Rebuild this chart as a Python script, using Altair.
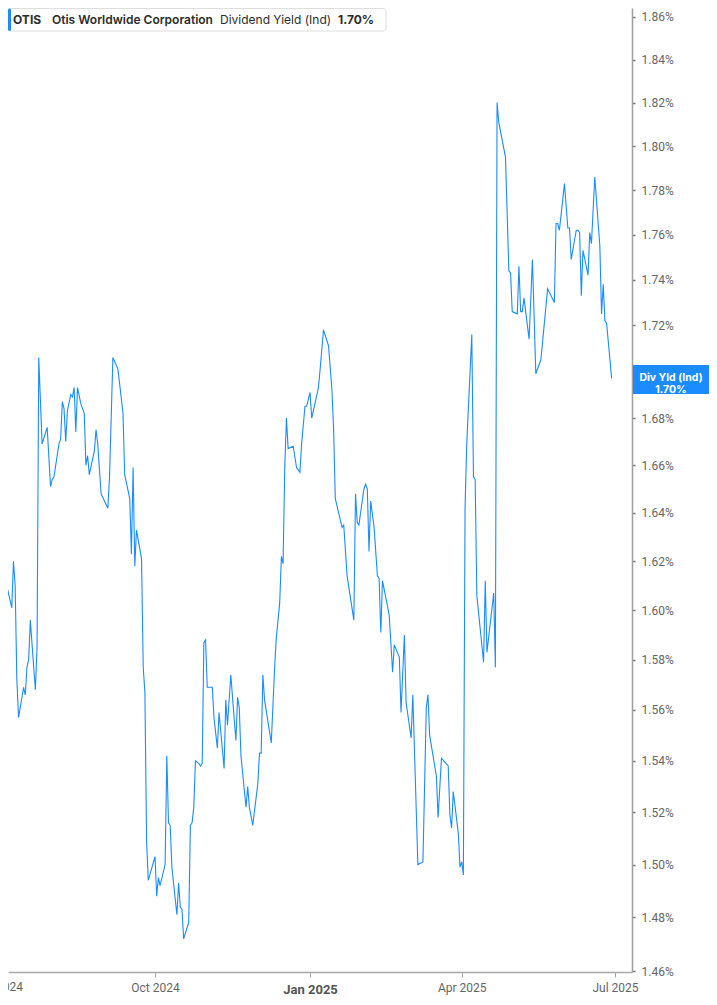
import altair as alt
import pandas as pd

# ---------------- data ----------------
dates = [
    "2024-07-01", "2024-07-02", "2024-07-03", "2024-07-08", "2024-07-09", "2024-07-10", "2024-07-11", "2024-07-12", "2024-07-15", "2024-07-16",
    "2024-07-17", "2024-07-18", "2024-07-19", "2024-07-21", "2024-07-22", "2024-07-23", "2024-07-24", "2024-07-26", "2024-07-29", "2024-07-31",
    "2024-08-01", "2024-08-02", "2024-08-05", "2024-08-06", "2024-08-07", "2024-08-08", "2024-08-09", "2024-08-10", "2024-08-12", "2024-08-13",
    "2024-08-14", "2024-08-15", "2024-08-16", "2024-08-18", "2024-08-20", "2024-08-21", "2024-08-22", "2024-08-23", "2024-08-26", "2024-08-27",
    "2024-08-28", "2024-08-30", "2024-09-03", "2024-09-04", "2024-09-06", "2024-09-09", "2024-09-12", "2024-09-13", "2024-09-16", "2024-09-17",
    "2024-09-18", "2024-09-19", "2024-09-20", "2024-09-23", "2024-09-24", "2024-09-25", "2024-09-26", "2024-09-27", "2024-10-01", "2024-10-02",
    "2024-10-03", "2024-10-04", "2024-10-07", "2024-10-08", "2024-10-09", "2024-10-10", "2024-10-11", "2024-10-14", "2024-10-15", "2024-10-16",
    "2024-10-17", "2024-10-18", "2024-10-21", "2024-10-22", "2024-10-23", "2024-10-24", "2024-10-25", "2024-10-27", "2024-10-28", "2024-10-29",
    "2024-10-30", "2024-10-31", "2024-11-01", "2024-11-04", "2024-11-05", "2024-11-07", "2024-11-08", "2024-11-11", "2024-11-12", "2024-11-13",
    "2024-11-15", "2024-11-16", "2024-11-18", "2024-11-19", "2024-11-20", "2024-11-21", "2024-11-24", "2024-11-25", "2024-11-26", "2024-11-28",
    "2024-12-01", "2024-12-02", "2024-12-03", "2024-12-04", "2024-12-05", "2024-12-09", "2024-12-11", "2024-12-12", "2024-12-13", "2024-12-14",
    "2024-12-15", "2024-12-16", "2024-12-17", "2024-12-18", "2024-12-19", "2024-12-22", "2024-12-24", "2024-12-26", "2024-12-27", "2024-12-29",
    "2024-12-30", "2025-01-01", "2025-01-02", "2025-01-06", "2025-01-07", "2025-01-09", "2025-01-12", "2025-01-14", "2025-01-15", "2025-01-16",
    "2025-01-20", "2025-01-21", "2025-01-23", "2025-01-27", "2025-01-28", "2025-01-29", "2025-01-30", "2025-02-02", "2025-02-03", "2025-02-04",
    "2025-02-05", "2025-02-06", "2025-02-08", "2025-02-10", "2025-02-11", "2025-02-12", "2025-02-13", "2025-02-17", "2025-02-19", "2025-02-20",
    "2025-02-23", "2025-02-24", "2025-02-26", "2025-02-27", "2025-03-02", "2025-03-03", "2025-03-06", "2025-03-09", "2025-03-11", "2025-03-12",
    "2025-03-13", "2025-03-17", "2025-03-18", "2025-03-20", "2025-03-24", "2025-03-25", "2025-03-26", "2025-03-27", "2025-03-30", "2025-03-31",
    "2025-04-01", "2025-04-02", "2025-04-03", "2025-04-04", "2025-04-07", "2025-04-08", "2025-04-09", "2025-04-10", "2025-04-14", "2025-04-15",
    "2025-04-16", "2025-04-20", "2025-04-21", "2025-04-22", "2025-04-23", "2025-04-27", "2025-04-29", "2025-04-30", "2025-05-01", "2025-05-04",
    "2025-05-05", "2025-05-06", "2025-05-07", "2025-05-08", "2025-05-11", "2025-05-13", "2025-05-15", "2025-05-18", "2025-05-22", "2025-05-26",
    "2025-05-27", "2025-05-28", "2025-05-29", "2025-06-01", "2025-06-03", "2025-06-04", "2025-06-05", "2025-06-08", "2025-06-09", "2025-06-10",
    "2025-06-11", "2025-06-12", "2025-06-15", "2025-06-16", "2025-06-17", "2025-06-19", "2025-06-22", "2025-06-23", "2025-06-24", "2025-06-25",
    "2025-06-26", "2025-06-29",
]

yields = [
    1.642, 1.626, 1.616, 1.601, 1.620, 1.610, 1.572, 1.557, 1.569, 1.566,
    1.577, 1.580, 1.596, 1.577, 1.568, 1.585, 1.706, 1.669, 1.676, 1.651,
    1.654, 1.655, 1.669, 1.671, 1.687, 1.684, 1.670, 1.683, 1.690, 1.689,
    1.693, 1.674, 1.693, 1.686, 1.682, 1.660, 1.664, 1.656, 1.666, 1.675,
    1.669, 1.648, 1.642, 1.655, 1.706, 1.701, 1.682, 1.656, 1.646, 1.623,
    1.659, 1.618, 1.633, 1.621, 1.577, 1.567, 1.509, 1.494, 1.503, 1.488,
    1.495, 1.492, 1.500, 1.542, 1.516, 1.515, 1.499, 1.481, 1.493, 1.484,
    1.483, 1.472, 1.478, 1.515, 1.516, 1.522, 1.540, 1.539, 1.538, 1.539,
    1.587, 1.588, 1.569, 1.569, 1.557, 1.545, 1.559, 1.537, 1.564, 1.554,
    1.574, 1.565, 1.548, 1.565, 1.561, 1.542, 1.522, 1.530, 1.522, 1.515,
    1.531, 1.543, 1.543, 1.574, 1.564, 1.547, 1.577, 1.589, 1.596, 1.603,
    1.622, 1.619, 1.659, 1.680, 1.667, 1.668, 1.659, 1.657, 1.669, 1.685,
    1.685, 1.691, 1.680, 1.693, 1.701, 1.718, 1.711, 1.692, 1.675, 1.646,
    1.634, 1.635, 1.614, 1.596, 1.648, 1.636, 1.635, 1.650, 1.652, 1.650,
    1.624, 1.645, 1.634, 1.614, 1.613, 1.591, 1.612, 1.598, 1.575, 1.586,
    1.581, 1.559, 1.590, 1.563, 1.549, 1.566, 1.500, 1.501, 1.561, 1.566,
    1.550, 1.534, 1.518, 1.541, 1.538, 1.519, 1.514, 1.528, 1.512, 1.499,
    1.501, 1.496, 1.642, 1.669, 1.716, 1.655, 1.654, 1.606, 1.579, 1.612,
    1.583, 1.607, 1.577, 1.820, 1.811, 1.795, 1.744, 1.743, 1.726, 1.725,
    1.746, 1.726, 1.726, 1.732, 1.714, 1.749, 1.699, 1.705, 1.736, 1.730,
    1.765, 1.765, 1.762, 1.783, 1.763, 1.763, 1.749, 1.762, 1.762, 1.761,
    1.733, 1.753, 1.742, 1.761, 1.756, 1.786, 1.755, 1.725, 1.738, 1.722,
    1.721, 1.697,
]

# 1.70% sits under the current-value badge in the reference, so it is not labelled
y_ticks = [1.46, 1.48, 1.50, 1.52, 1.54, 1.56, 1.58, 1.60, 1.62, 1.64, 1.66,
           1.68, 1.72, 1.74, 1.76, 1.78, 1.80, 1.82, 1.84, 1.86]
x_tick_dates = ["2024-10-01", "2025-01-01", "2025-04-01", "2025-07-01"]
first_tick = {"date": ["2024-07-01"], "label": ["Jul 2024"]}

ticker = "OTIS"
company = "Otis Worldwide Corporation"
metric = "Dividend Yield (Ind)"
badge_title = "Div Yld (Ind)"
last_label = f"{yields[-1]:.2f}%"

# ---------------- styling ----------------
BLUE = "#1a8cff"
GREY_TXT = "#666666"
FONT_AX = "Roboto"
FONT_UI = "Inter"

W, H = 624, 964
PAD_R = 77  # keeps the whole svg within the 701px-wide page body
PAD_B = 25

df = pd.DataFrame({"date": pd.to_datetime(dates), "yield": yields})
last = df.tail(1).reset_index(drop=True)
first_df = pd.DataFrame({"date": pd.to_datetime(first_tick["date"]), "label": first_tick["label"]})


def dt(s, hours=0):
    y, m, d = (int(p) for p in s.split("-"))
    return alt.DateTime(year=y, month=m, date=d, hours=hours)


x_scale = alt.Scale(domain=[dt("2024-07-05", 18), dt("2025-07-11", 2)])
y_scale = alt.Scale(type="log", domain=[1.45963, 1.86425], nice=False, zero=False)

is_jan = "month(datum.value) === 0"

x_axis = alt.Axis(
    values=[dt(s) for s in x_tick_dates],
    format="%b %Y",
    title=None,
    grid=False,
    domainColor="#a8a8a8",
    domainWidth=1.5,
    tickColor="#a8a8a8",
    tickSize=5,
    tickWidth=1,
    labelFont=FONT_AX,
    labelFontSize={"condition": {"test": is_jan, "value": 13}, "value": 12},
    labelFontWeight={"condition": {"test": is_jan, "value": "bold"}, "value": "normal"},
    labelColor={"condition": {"test": is_jan, "value": "#555555"}, "value": GREY_TXT},
    labelPadding={"condition": {"test": is_jan, "value": 6}, "value": 5},
    labelFlush=False,
    labelOverlap=False,
)

y_axis = alt.Axis(
    orient="right",
    values=y_ticks,
    labelExpr="format(datum.value, '.2f') + '%'",
    title=None,
    grid=False,
    domainColor="#a0a0a0",
    domainWidth=1.5,
    tickColor="#777777",
    tickSize=3,
    tickWidth=1.5,
    labelFont=FONT_AX,
    labelFontSize=12,
    labelColor=GREY_TXT,
    labelPadding=6,
    labelOverlap=False,
    labelFlush=False,
)

line = alt.Chart(df).mark_line(color=BLUE, strokeWidth=1.1, clip=True).encode(
    x=alt.X("date:T", scale=x_scale, axis=x_axis),
    y=alt.Y("yield:Q", scale=y_scale, axis=y_axis),
)

# partial first x label at the left edge (its tick lies just outside the view)
first_lbl = alt.Chart(first_df).mark_text(
    font=FONT_AX, fontSize=12, color=GREY_TXT, baseline="top", align="center", clip=False
).encode(
    x=alt.X("date:T"),
    y=alt.value(H + 5 + 5),
    text="label:N",
)

# current value badge on the right axis
badge_rect = alt.Chart(last).mark_rect(color=BLUE).encode(
    x=alt.value(W + 1), x2=alt.value(W + PAD_R), y=alt.value(357), y2=alt.value(386)
)
badge_txt = alt.Chart(last).mark_text(
    font=FONT_UI, fontSize=10.5, fontWeight="bold", color="white",
    baseline="middle", lineHeight=12
).encode(
    x=alt.value(W + 1 + (PAD_R - 1) / 2),
    y=alt.Y("yield:Q"),
    text=alt.value([badge_title, last_label]),
)

# legend box at top-left
leg_box = alt.Chart(last).mark_rect(
    fill="white", stroke="#dedede", strokeWidth=1, cornerRadius=3
).encode(x=alt.value(0.5), x2=alt.value(378), y=alt.value(0.5), y2=alt.value(23))
leg_bar = alt.Chart(last).mark_rect(color=BLUE, cornerRadius=1.5).encode(
    x=alt.value(0), x2=alt.value(3), y=alt.value(0.5), y2=alt.value(23)
)


def leg_text(txt, xpos, weight):
    return alt.Chart(last).mark_text(
        font=FONT_UI, fontSize=12, fontWeight=weight, color="#2b2b2b",
        align="left", baseline="middle"
    ).encode(x=alt.value(xpos), y=alt.value(11.5), text=alt.value(txt))


legend = [
    leg_text(ticker, 5, 700),
    leg_text(company, 44, 600),
    leg_text(metric, 212, 400),
    leg_text(last_label, 330, 700),
]

chart = alt.layer(
    line, first_lbl, badge_rect, badge_txt, leg_box, leg_bar, *legend
).properties(
    width=W,
    height=H,
    autosize=alt.AutoSizeParams(type="none"),
    padding={"left": 0, "top": 0, "right": PAD_R, "bottom": PAD_B},
    background="white",
).configure_view(stroke=None)

chart.save("out.html", embed_options={"renderer": "svg", "actions": False})
